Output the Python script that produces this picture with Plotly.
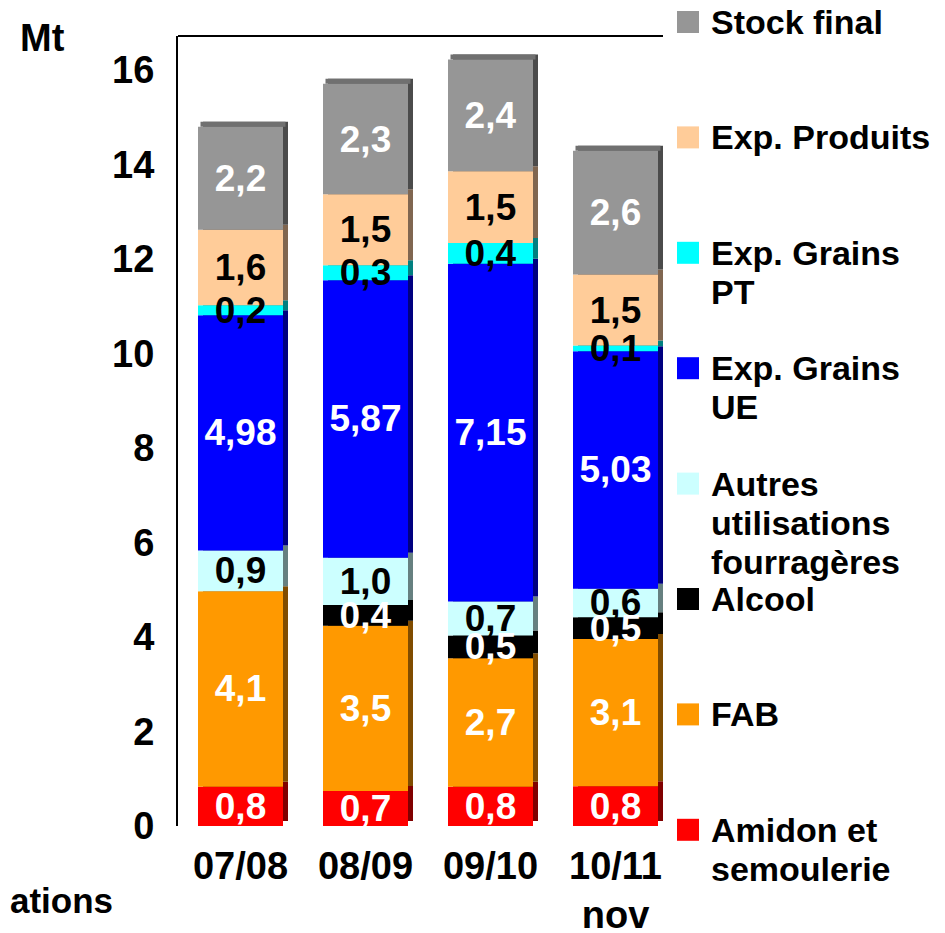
import plotly.graph_objects as go

# ---------------- data ----------------
categories = ["07/08", "08/09", "09/10", "10/11<br>nov"]

amidon       = [0.83, 0.74, 0.83, 0.84]
fab          = [4.14, 3.50, 2.72, 3.12]
alcool       = [None, 0.44, 0.48, 0.46]
autres       = [0.86, 1.00, 0.72, 0.60]
exp_ue       = [4.98, 5.87, 7.15, 5.03]
exp_pt       = [0.21, 0.32, 0.44, 0.12]
exp_produits = [1.60, 1.50, 1.52, 1.50]
stock        = [2.18, 2.34, 2.36, 2.62]

series_values = [amidon, fab, alcool, autres, exp_ue, exp_pt, exp_produits, stock]
series_names = ["Amidon et<br>semoulerie", "FAB", "Alcool",
                "Autres<br>utilisations<br>fourragères", "Exp. Grains<br>UE",
                "Exp. Grains<br>PT", "Exp. Produits", "Stock final"]
label_formats = ["%{y:.1f}", "%{y:.1f}", "%{y:.1f}", "%{y:.1f}",
                 "%{y:.2f}", "%{y:.1f}", "%{y:.1f}", "%{y:.1f}"]

y_ticks = [0, 2, 4, 6, 8, 10, 12, 14, 16]
y_max = 16.72

# ---------------- style ----------------
front_colors = ["#FF0000", "#FF9900", "#000000", "#CCFFFF",
                "#0000FF", "#00FFFF", "#FFCC99", "#969696"]
side_colors = ["#800000", "#804C00", "#000000", "#668080",
               "#000080", "#008080", "#806650", "#4B4B4B"]
text_colors = ["white", "white", "white", "black",
               "white", "black", "black", "white"]

FONT = "Liberation Sans, Arial, sans-serif"
PAGE_OFF = 8                       # default body margin of the page
W, H = 945 - PAGE_OFF, 933 - PAGE_OFF
L, R, T, B = 178 - PAGE_OFF, 267, 36 - PAGE_OFF, 107
plot_w = W - L - R                 # 500
plot_h = H - T - B                 # 790
LEFT_PX, BOTTOM_PX = 178, 826      # plot area edges in page pixels

bar_w = 0.68
dx = 5 / (plot_w / 4)          # depth offset (category units)
dy = 5 / (plot_h / y_max)      # depth offset (y units)

# cumulative bases
bases = []
run = [0.0] * len(categories)
for vals in series_values:
    bases.append(list(run))
    run = [r + (v or 0) for r, v in zip(run, vals)]
totals = run

fig = go.Figure()

# side faces (behind)
for vals, base, sc in zip(series_values, bases, side_colors):
    fig.add_trace(go.Bar(
        x=categories, y=vals, base=[b + dy for b in base],
        width=bar_w, offset=-bar_w / 2 + dx,
        marker=dict(color=sc, line=dict(width=0)),
        hoverinfo="skip", showlegend=False))

# top face
fig.add_trace(go.Bar(
    x=categories, y=[dy] * len(categories), base=totals,
    width=bar_w, offset=-bar_w / 2 + dx / 2,
    marker=dict(color="#707070", line=dict(width=0)),
    hoverinfo="skip", showlegend=False))

# front faces
for vals, base, name, fc in zip(series_values, bases, series_names, front_colors):
    fig.add_trace(go.Bar(
        x=categories, y=vals, base=base, name=name.replace("<br>", " "),
        width=bar_w, offset=-bar_w / 2,
        marker=dict(color=fc, line=dict(width=0)),
        showlegend=False))

# data labels on top of every face (lower series drawn last, on top)
for vals, base, tc, fmt in list(zip(series_values, bases, text_colors, label_formats))[::-1]:
    fig.add_trace(go.Bar(
        x=categories, y=vals, base=base,
        width=bar_w, offset=-bar_w / 2,
        marker=dict(color="rgba(0,0,0,0)", line=dict(width=0)),
        texttemplate=fmt, textposition="inside", insidetextanchor="middle",
        textangle=0,
        textfont=dict(color=tc, size=37, family=FONT, weight="bold"),
        hoverinfo="skip", showlegend=False))


def px_x(px):
    return (px - LEFT_PX) / plot_w


def px_y(py):
    return (BOTTOM_PX - py) / plot_h


# legend (drawn manually, evenly spaced like the original)
annotations = []
shapes = []
legend_top = 22
legend_step = 115.4
line_step = 39
for i, (name, col) in enumerate(zip(series_names[::-1], front_colors[::-1])):
    cy = legend_top + i * legend_step
    shapes.append(dict(type="rect", xref="paper", yref="paper",
                       x0=px_x(677), x1=px_x(699),
                       y0=px_y(cy + 11), y1=px_y(cy - 11),
                       fillcolor=col, line=dict(width=0)))
    for k, line in enumerate(name.split("<br>")):
        annotations.append(dict(
            text=line, xref="paper", yref="paper",
            x=px_x(709), y=px_y(cy + k * line_step),
            xanchor="left", yanchor="middle", showarrow=False,
            font=dict(size=34, family=FONT, color="black", weight="bold")))

# top frame line
shapes.append(dict(type="line", xref="paper", yref="paper",
                   x0=0, x1=px_x(663), y0=1, y1=1,
                   line=dict(color="black", width=2)))

annotations.append(dict(text="Mt", xref="paper", yref="paper",
                        x=px_x(42), y=px_y(38), xanchor="center", yanchor="middle",
                        showarrow=False,
                        font=dict(size=38, family=FONT, color="black", weight="bold")))
annotations.append(dict(text="ations", xref="paper", yref="paper",
                        x=px_x(PAGE_OFF), y=px_y(900), xanchor="left", yanchor="middle",
                        showarrow=False,
                        font=dict(size=35, family=FONT, color="black", weight="bold")))

fig.update_layout(
    width=W, height=H,
    margin=dict(l=L, r=R, t=T, b=B, pad=0, autoexpand=False),
    barmode="overlay",
    plot_bgcolor="white", paper_bgcolor="white",
    separators=", ",
    uniformtext=dict(minsize=37, mode="show"),
    font=dict(family=FONT, color="black"),
    showlegend=False,
    xaxis=dict(type="category", range=[-0.5, 3.5], showline=False,
               showgrid=False, zeroline=False, ticks="", automargin=False,
               tickfont=dict(size=38, family=FONT, weight="bold", color="black"),
               ticklabelstandoff=14),
    yaxis=dict(range=[0, y_max], tickvals=y_ticks, showline=True,
               linecolor="black", linewidth=2, showgrid=False, zeroline=False,
               ticks="", ticklabelstandoff=14, automargin=False,
               tickfont=dict(size=38, family=FONT, weight="bold", color="black")),
    shapes=shapes,
    annotations=annotations,
)

fig.write_html("out.html")
